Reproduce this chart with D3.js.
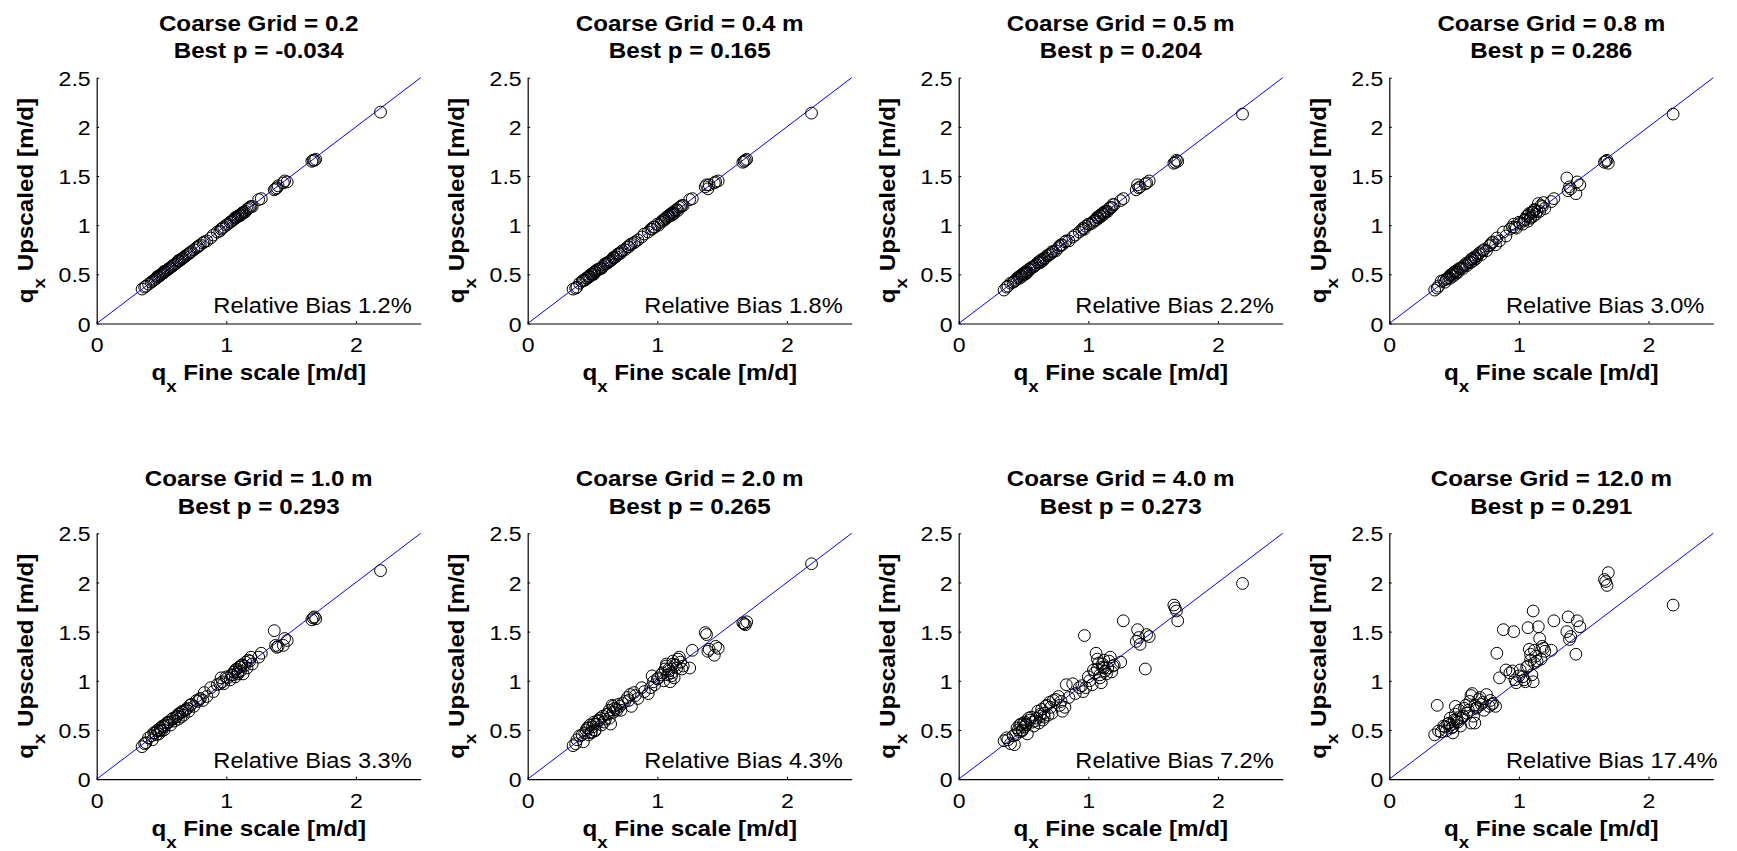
<!DOCTYPE html>
<html><head><meta charset="utf-8">
<script src="https://cdn.jsdelivr.net/npm/d3@7"></script>
<style>
body{margin:0;background:#fff}
svg{display:block}
text{font-family:"Liberation Sans",Arial,Helvetica,sans-serif;fill:#000}
</style>
</head><body>
<svg id="chart" width="1737" height="851"></svg>
<script>
// ---------------- data ----------------
const gridLabels = ["0.2","0.4 m","0.5 m","0.8 m","1.0 m","2.0 m","4.0 m","12.0 m"];
const bestP      = ["-0.034","0.165","0.204","0.286","0.293","0.265","0.273","0.291"];
const relBias    = ["1.2%","1.8%","2.2%","3.0%","3.3%","4.3%","7.2%","17.4%"];
const yTickValues = [0,0.5,1,1.5,2,2.5];
const xTickValues = [0,1,2];

// fine-scale qx (shared by all panels)
const xFine = [0.35,0.37,0.40,0.43,0.44,0.46,0.47,0.48,0.49,0.50,
 0.51,0.52,0.53,0.55,0.57,0.58,0.60,0.62,0.63,0.64,
 0.65,0.66,0.67,0.69,0.71,0.73,0.75,0.78,0.80,0.82,
 0.83,0.85,0.88,0.90,0.93,0.96,0.97,0.98,1.01,1.03,
 1.05,1.06,1.07,1.08,1.09,1.10,1.11,1.12,1.13,1.15,
 1.16,1.18,1.20,1.25,1.27,1.37,1.38,1.39,1.44,1.45,
 1.47,1.66,1.68,1.69,2.19,
 0.38,0.42,0.45,0.47,0.49,0.51,0.52,0.54,0.56,0.59,
 0.61,0.63,0.66,0.68,0.70,0.72,0.77,0.79,0.95,1.00,
 1.04,1.07,1.09,1.11,1.12,1.14,1.17,1.19,1.40,1.67];

// upscaled qx for each coarse grid
const yUp02 = [0.35,0.37,0.40,0.43,0.44,0.46,0.47,0.48,0.49,0.50,
 0.51,0.52,0.53,0.55,0.57,0.58,0.60,0.62,0.63,0.64,
 0.65,0.66,0.67,0.69,0.71,0.73,0.75,0.78,0.80,0.82,
 0.83,0.84,0.87,0.90,0.93,0.96,0.97,0.98,1.01,1.03,
 1.05,1.06,1.07,1.08,1.09,1.10,1.11,1.12,1.13,1.14,
 1.16,1.18,1.19,1.26,1.27,1.36,1.37,1.38,1.43,1.45,
 1.44,1.65,1.66,1.67,2.15,
 0.38,0.42,0.45,0.48,0.49,0.51,0.53,0.54,0.56,0.59,
 0.61,0.64,0.66,0.68,0.70,0.72,0.77,0.79,0.94,1.00,
 1.04,1.08,1.09,1.10,1.12,1.13,1.17,1.19,1.40,1.66];
const yUp04 = [0.35,0.36,0.41,0.44,0.44,0.46,0.48,0.48,0.50,0.50,
 0.52,0.52,0.54,0.55,0.56,0.58,0.61,0.62,0.63,0.64,
 0.65,0.67,0.67,0.70,0.71,0.74,0.75,0.78,0.81,0.82,
 0.83,0.85,0.88,0.91,0.93,0.96,0.98,0.98,1.00,1.03,
 1.05,1.06,1.07,1.09,1.09,1.11,1.10,1.13,1.12,1.16,
 1.15,1.19,1.20,1.26,1.27,1.39,1.41,1.37,1.43,1.44,
 1.45,1.64,1.66,1.67,2.14,
 0.37,0.43,0.46,0.47,0.50,0.50,0.53,0.55,0.56,0.60,
 0.61,0.63,0.67,0.68,0.71,0.72,0.78,0.80,0.96,1.01,
 1.05,1.08,1.10,1.12,1.11,1.15,1.18,1.20,1.41,1.65];
const yUp05 = [0.34,0.37,0.41,0.43,0.44,0.47,0.46,0.49,0.48,0.51,
 0.50,0.53,0.52,0.55,0.57,0.58,0.60,0.62,0.62,0.65,
 0.64,0.66,0.67,0.69,0.71,0.73,0.74,0.79,0.80,0.83,
 0.84,0.84,0.88,0.90,0.93,0.97,0.96,0.99,1.01,1.02,
 1.05,1.05,1.08,1.07,1.10,1.09,1.12,1.11,1.14,1.14,
 1.17,1.18,1.21,1.25,1.27,1.36,1.41,1.38,1.42,1.43,
 1.45,1.63,1.66,1.65,2.13,
 0.38,0.42,0.46,0.48,0.50,0.52,0.51,0.55,0.57,0.59,
 0.62,0.64,0.66,0.69,0.70,0.73,0.77,0.80,0.95,1.01,
 1.04,1.08,1.09,1.12,1.13,1.14,1.18,1.21,1.39,1.64];
const yUp08 = [0.34,0.36,0.43,0.42,0.45,0.47,0.46,0.50,0.48,0.52,
 0.50,0.54,0.52,0.56,0.56,0.59,0.59,0.63,0.62,0.66,
 0.64,0.67,0.66,0.71,0.70,0.75,0.74,0.80,0.83,0.80,
 0.87,0.84,0.93,0.89,0.96,1.01,0.98,0.97,1.02,1.01,
 1.06,1.09,1.04,1.12,1.07,1.13,1.09,1.16,1.11,1.22,
 1.14,1.19,1.17,1.24,1.27,1.48,1.35,1.39,1.32,1.44,
 1.41,1.64,1.66,1.63,2.13,
 0.38,0.44,0.46,0.49,0.51,0.53,0.52,0.56,0.57,0.61,
 0.62,0.65,0.68,0.69,0.72,0.74,0.79,0.82,0.98,1.03,
 1.05,1.10,1.08,1.13,1.15,1.14,1.20,1.23,1.37,1.65];
const yUp10 = [0.33,0.36,0.42,0.40,0.47,0.45,0.50,0.46,0.52,0.49,
 0.54,0.50,0.55,0.58,0.55,0.61,0.59,0.64,0.61,0.67,
 0.63,0.68,0.65,0.71,0.69,0.76,0.74,0.79,0.82,0.80,
 0.88,0.84,0.93,0.89,0.96,1.03,0.99,0.97,1.03,1.01,
 1.06,1.09,1.04,1.12,1.07,1.14,1.10,1.16,1.07,1.19,
 1.13,1.20,1.17,1.24,1.28,1.51,1.36,1.34,1.36,1.43,
 1.41,1.62,1.65,1.63,2.12,
 0.37,0.44,0.47,0.49,0.50,0.54,0.53,0.57,0.58,0.62,
 0.63,0.66,0.69,0.70,0.72,0.75,0.80,0.81,0.97,1.04,
 1.06,1.11,1.09,1.14,1.16,1.15,1.21,1.24,1.35,1.64];
const yUp20 = [0.34,0.36,0.44,0.38,0.47,0.52,0.45,0.55,0.48,0.53,
 0.58,0.50,0.56,0.60,0.55,0.64,0.61,0.66,0.70,0.56,
 0.75,0.68,0.72,0.70,0.74,0.77,0.79,0.80,0.74,0.88,
 0.85,0.82,0.93,0.89,0.87,1.05,0.99,0.96,1.03,1.06,
 1.00,1.12,1.15,1.06,1.10,0.99,1.08,1.17,1.03,1.13,
 1.22,1.19,1.15,1.13,1.31,1.49,1.47,1.30,1.26,1.35,
 1.33,1.59,1.57,1.60,2.19,
 0.40,0.45,0.50,0.52,0.47,0.56,0.49,0.59,0.62,0.58,
 0.66,0.62,0.74,0.71,0.76,0.70,0.83,0.86,0.93,1.02,
 1.08,1.17,1.12,1.05,1.20,1.16,1.24,1.12,1.32,1.58];
const yUp40 = [0.39,0.42,0.36,0.35,0.45,0.50,0.48,0.56,0.50,0.57,
 0.53,0.55,0.46,0.60,0.58,0.54,0.62,0.57,0.66,0.71,
 0.60,0.67,0.74,0.65,0.73,0.80,0.81,0.75,0.69,0.73,
 0.96,0.83,0.97,0.87,0.93,0.89,1.46,0.93,1.00,0.96,
 1.08,1.28,1.12,1.18,1.03,0.98,1.14,1.21,1.10,1.13,
 1.20,1.09,1.16,1.19,1.61,1.40,1.52,1.44,1.12,1.47,
 1.45,1.77,1.71,1.61,1.99,
 0.40,0.44,0.52,0.55,0.49,0.58,0.56,0.62,0.63,0.59,
 0.69,0.64,0.63,0.75,0.78,0.67,0.84,0.79,0.95,1.04,
 1.11,1.22,1.06,1.17,1.13,1.07,1.24,1.15,1.37,1.74];
const yUp120 = [0.45,0.75,0.48,0.53,0.49,0.57,0.55,0.52,0.47,0.60,
 0.74,0.61,0.58,0.54,0.64,0.72,0.67,0.79,0.57,0.87,
 0.64,0.57,0.72,0.81,0.76,0.70,0.86,0.80,0.77,0.74,
 1.28,1.03,1.52,1.11,1.08,1.50,1.01,0.98,1.11,1.04,
 0.99,1.14,1.54,1.32,1.21,1.06,1.71,1.18,1.25,1.55,
 1.43,1.35,1.30,1.31,1.61,1.50,1.65,1.42,1.27,1.61,
 1.55,2.03,1.97,2.10,1.77,
 0.49,0.54,0.56,0.62,0.53,0.66,0.59,0.70,0.62,0.75,
 0.70,0.85,0.75,0.73,0.83,0.78,0.74,0.76,1.10,1.05,
 1.01,1.15,1.27,0.99,1.31,1.20,1.22,1.33,1.45,2.01];
const upscaled = [yUp02,yUp04,yUp05,yUp08,yUp10,yUp20,yUp40,yUp120];

// ---------------- layout ----------------
const SX = 1.1;               // horizontal text stretch (wide rendering in reference)
const colLeft = [96.7, 527.7, 958.7, 1389.3];
const rowTop = [77.7, 533.3];
const W = 324, H = 245.8;
const FONT = '"Liberation Sans",Arial,sans-serif';

const svg = d3.select("#chart");

upscaled.forEach((ys, i) => {
  const L = colLeft[i % 4], T = rowTop[Math.floor(i / 4)], B = T + H;
  const x = d3.scaleLinear().domain([0, 2.5]).range([L, L + W]);
  const y = d3.scaleLinear().domain([0, 2.5]).range([B, T]);
  const g = svg.append("g");

  // identity line
  g.append("line")
    .attr("x1", x(0)).attr("y1", y(0)).attr("x2", x(2.5)).attr("y2", y(2.5))
    .attr("stroke", "#0000ff").attr("stroke-width", 1);

  // points
  g.append("g").selectAll("circle").data(xFine.map((v, k) => [v, ys[k]]))
    .join("circle")
    .attr("cx", d => x(d[0])).attr("cy", d => y(d[1])).attr("r", 5.9)
    .attr("fill", "none").attr("stroke", "#000").attr("stroke-width", 1);

  // axes
  const ax = g.append("g").attr("transform", `translate(0,${B})`)
    .call(d3.axisBottom(x).tickValues(xTickValues).tickSizeInner(-2.5).tickSizeOuter(0).tickFormat(d => String(d)));
  const ay = g.append("g").attr("transform", `translate(${L},0)`)
    .call(d3.axisLeft(y).tickValues(yTickValues).tickSizeInner(-2.5).tickSizeOuter(0).tickFormat(d => String(d)));
  [ax, ay].forEach(a => {
    a.attr("font-size", null).attr("font-family", null);
    a.select(".domain").attr("stroke", "#000").attr("stroke-width", 1.2);
    a.selectAll(".tick line").attr("stroke", "#000");
  });
  ax.selectAll(".tick text")
    .attr("y", null).attr("dy", null)
    .attr("transform", `translate(0,28.5) scale(${SX},1)`)
    .attr("font-size", 21).attr("font-family", FONT).attr("fill", "#000");
  ay.selectAll(".tick text")
    .attr("x", null)
    .attr("dy", "0.36em")
    .attr("transform", `translate(-6,0) scale(${SX},1)`)
    .attr("font-size", 21).attr("font-family", FONT).attr("fill", "#000");

  const cx = L + W / 2;
  // titles
  g.append("text").attr("transform", `translate(${cx},${T - 47}) scale(${SX},1)`)
    .attr("text-anchor", "middle").attr("font-weight", "bold").attr("font-size", 22)
    .text("Coarse Grid = " + gridLabels[i]);
  g.append("text").attr("transform", `translate(${cx},${T - 19.5}) scale(${SX},1)`)
    .attr("text-anchor", "middle").attr("font-weight", "bold").attr("font-size", 22)
    .text("Best p = " + bestP[i]);

  // x label
  const xl = g.append("text").attr("transform", `translate(${cx},${B + 56.7}) scale(${SX},1)`)
    .attr("text-anchor", "middle").attr("font-weight", "bold").attr("font-size", 22);
  xl.append("tspan").text("q");
  xl.append("tspan").attr("font-size", 17).attr("dy", 12).text("x");
  xl.append("tspan").attr("dy", -12).text(" Fine scale [m/d]");

  // y label
  const yl = g.append("text").attr("transform", `translate(${L - 63.5},${(T + B) / 2}) rotate(-90) scale(${SX},1)`)
    .attr("text-anchor", "middle").attr("font-weight", "bold").attr("font-size", 22);
  yl.append("tspan").text("q");
  yl.append("tspan").attr("font-size", 17).attr("dy", 12).text("x");
  yl.append("tspan").attr("dy", -12).text(" Upscaled [m/d]");

  // relative bias annotation
  g.append("text").attr("transform", `translate(${x(0.9)},${y(0.108)}) scale(${SX},1)`)
    .attr("font-size", 21.5).text("Relative Bias " + relBias[i]);
});
</script>
</body></html>
